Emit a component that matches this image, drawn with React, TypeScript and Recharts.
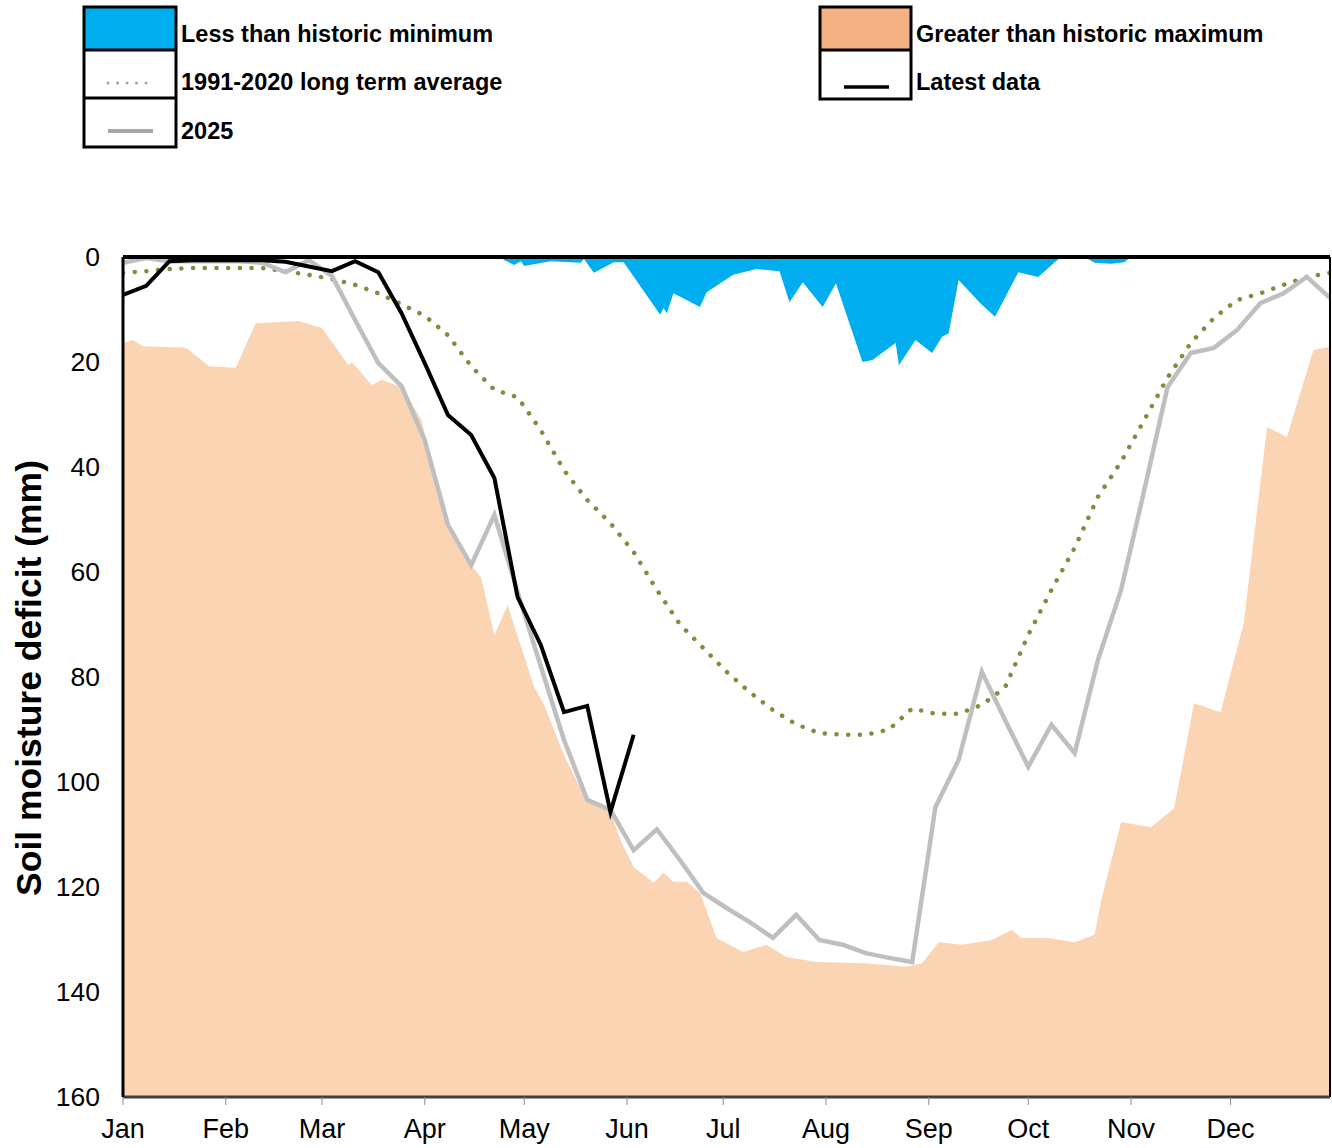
import React from 'react';
import { ComposedChart, Area, Line, XAxis, YAxis, ReferenceLine } from 'recharts';

const FONT = '"Liberation Sans", Arial, Helvetica, sans-serif';

// X axis (day of year) month ticks
const monthLabels = ['Jan', 'Feb', 'Mar', 'Apr', 'May', 'Jun', 'Jul', 'Aug', 'Sep', 'Oct', 'Nov', 'Dec'];
const monthStartDays = [0, 31, 60, 91, 121, 152, 181, 212, 243, 273, 304, 334];
const yTicks = [0, 20, 40, 60, 80, 100, 120, 140, 160];

// weekly points (day of year)
const weekDays = [0, 7, 14, 21, 28, 35, 42, 49, 56, 63, 70, 77, 84, 91, 98, 105, 112, 119, 126, 133, 140, 147, 154, 161, 168, 175, 182, 189, 196, 203, 210, 217, 224, 231, 238, 245, 252, 259, 266, 273, 280, 287, 294, 301, 308, 315, 322, 329, 336, 343, 350, 357, 364];

// 1991-2020 long term average (mm deficit)
const longTermAvg = [3.0, 2.7, 2.3, 2.1, 2.1, 2.1, 2.1, 2.7, 3.4, 4.2, 5.3, 6.9, 9.0, 11.2, 14.9, 20.8, 25.3, 26.7, 33.0, 40.6, 46.3, 50.7, 56.2, 63.4, 70.0, 74.5, 79.0, 82.9, 86.3, 89.0, 90.7, 91.0, 91.0, 90.0, 86.0, 87.0, 87.0, 85.3, 82.0, 72.0, 63.4, 55.4, 45.7, 39.0, 31.0, 23.0, 16.4, 11.6, 8.2, 6.9, 5.3, 3.8, 3.0];

// 2025 series
const year2025 = [1.1, 0.2, 0.8, 0.8, 0.8, 0.8, 1.1, 2.9, 0.6, 3.6, 12.0, 20.2, 24.6, 34.9, 51.0, 58.7, 49.1, 63.8, 78.0, 92.0, 103.4, 105.3, 113.0, 109.0, 114.9, 121.1, 124.0, 126.7, 129.7, 125.3, 130.1, 131.0, 132.6, 133.5, 134.3, 104.8, 95.8, 79.0, 88.2, 97.1, 89.1, 94.5, 76.8, 63.4, 44.4, 24.8, 18.3, 17.3, 13.9, 8.8, 6.9, 3.8, 7.8];

// Latest data (first 23 weeks)
const latestData = [7.2, 5.5, 0.8, 0.6, 0.6, 0.6, 0.6, 0.9, 1.8, 2.7, 0.8, 2.9, 10.7, 20.2, 30.1, 33.9, 42.1, 64.8, 73.9, 86.7, 85.5, 105.7, 91.0];

// Historic maximum deficit edge (orange = greater than historic maximum)
const maxDays = [0, 3, 6, 19, 26, 34, 40, 53, 60, 68, 69, 75, 78, 84, 90, 94, 98, 105, 108, 112, 116, 124, 127, 133, 139, 147, 150, 154, 160, 163, 166, 170, 174, 179, 187, 194, 200, 209, 224, 236, 241, 246, 253, 262, 268, 271, 279, 287, 293, 295, 301, 310, 317, 323, 331, 338, 345, 351, 359, 364];
const maxValues = [16.4, 15.8, 17.0, 17.3, 20.8, 21.1, 12.6, 12.2, 13.5, 20.6, 20.0, 24.4, 23.4, 24.8, 31.0, 41.5, 51.4, 58.7, 61.0, 72.0, 66.3, 81.9, 85.3, 94.9, 102.5, 105.7, 111.0, 116.2, 119.2, 117.3, 119.0, 119.0, 121.1, 129.7, 132.4, 131.0, 133.3, 134.3, 134.5, 135.2, 134.5, 130.5, 131.0, 130.1, 128.2, 129.7, 129.7, 130.5, 129.1, 122.5, 107.6, 108.6, 105.0, 85.0, 86.7, 69.7, 32.4, 34.3, 17.7, 17.1];

// Historic minimum deficit edge (blue = less than historic minimum)
const minDays = [0, 114, 115, 118, 120, 121, 129, 138, 139, 142, 148, 151, 162, 163, 164, 166, 174, 176, 184, 191, 198, 201, 205, 211, 215, 223, 226, 233, 234, 239, 244, 247, 249, 252, 259, 263, 270, 276, 281, 283, 290, 293, 298, 302, 304, 364];
const minValues = [0, 0, 0.6, 1.5, 0.8, 1.7, 0.8, 1.1, 0.4, 3.0, 1.0, 1.0, 11.0, 9.7, 10.7, 6.9, 9.5, 6.7, 3.4, 2.3, 2.7, 8.6, 4.8, 9.5, 5.0, 20.0, 19.6, 16.4, 20.6, 15.8, 18.3, 15.2, 14.5, 4.4, 9.1, 11.4, 2.9, 3.8, 1.0, 0, 0, 1.1, 1.3, 1.0, 0, 0];

const weeklyData = weekDays.map((d, i) => ({ day: d, avg: longTermAvg[i], y2025: year2025[i] }));
const latestSeries = latestData.map((v, i) => ({ day: weekDays[i], latest: v }));
const maxSeries = maxDays.map((d, i) => ({ day: d, max: maxValues[i] }));
const minSeries = minDays.map((d, i) => ({ day: d, min: minValues[i] }));

const COLORS = {
  blue: '#00AEEF',
  peach: '#FAD4B3',
  legendOrange: '#F4B183',
  green: '#76923C',
  grey: '#BFBFBF',
  black: '#000000',
};

const Legend: React.FC = () => (
  <svg width={1332} height={160} style={{ position: 'absolute', left: 0, top: 0 }}>
    {/* left box */}
    <rect x={84} y={7} width={92} height={43} fill={COLORS.blue} />
    <rect x={84} y={7} width={92} height={140} fill="none" stroke="#000" strokeWidth={3} />
    <line x1={84} y1={50} x2={176} y2={50} stroke="#000" strokeWidth={3} />
    <line x1={84} y1={98} x2={176} y2={98} stroke="#000" strokeWidth={3} />
    <line x1={108} y1={83} x2={155} y2={83} stroke="#A6A6A6" strokeWidth={3} strokeDasharray="0.1 9.4" strokeLinecap="round" />
    <line x1={108} y1={131} x2={153} y2={131} stroke="#A6A6A6" strokeWidth={4} />
    <g fontFamily={FONT} fontWeight="bold" fontSize={23.5} fill="#000">
      <text x={181} y={42}>Less than historic minimum</text>
      <text x={181} y={90}>1991-2020 long term average</text>
      <text x={181} y={139}>2025</text>
    </g>
    {/* right box */}
    <rect x={820} y={7} width={91} height={43} fill={COLORS.legendOrange} />
    <rect x={820} y={7} width={91} height={92} fill="none" stroke="#000" strokeWidth={3} />
    <line x1={820} y1={50} x2={911} y2={50} stroke="#000" strokeWidth={3} />
    <line x1={844} y1={87} x2={889} y2={87} stroke="#000" strokeWidth={3.5} />
    <g fontFamily={FONT} fontWeight="bold" fontSize={23.5} fill="#000">
      <text x={916} y={42}>Greater than historic maximum</text>
      <text x={916} y={90}>Latest data</text>
    </g>
  </svg>
);

const YTitle: React.FC = () => (
  <svg width={60} height={1148} style={{ position: 'absolute', left: 0, top: 0 }}>
    <text
      transform="translate(29,678) rotate(-90)"
      textAnchor="middle"
      dy="0.35em"
      fontFamily={FONT}
      fontWeight="bold"
      fontSize={35.5}
      fill="#000"
    >
      Soil moisture deficit (mm)
    </text>
  </svg>
);

export default function App() {
  return (
    <div style={{ position: 'absolute', left: 0, top: 0, width: 1332, height: 1148, background: '#fff' }}>
      <div style={{ position: 'absolute', left: 0, top: 0 }}>
        <ComposedChart width={1332} height={1148} margin={{ top: 257, right: 2, bottom: 11, left: 63 }}>
          <XAxis
            dataKey="day"
            type="number"
            domain={[0, 364]}
            ticks={monthStartDays}
            tickFormatter={(v: number) => monthLabels[monthStartDays.indexOf(v)] ?? ''}
            allowDataOverflow
            height={40}
            axisLine={{ stroke: '#3F3F3F', strokeWidth: 3 }}
            tickLine={{ stroke: '#8C8C8C', strokeWidth: 1 }}
            tickSize={8}
            tickMargin={14}
            tick={{ fill: '#000', fontSize: 27, fontFamily: FONT }}
            interval={0}
          />
          <YAxis
            type="number"
            reversed
            domain={[0, 160]}
            ticks={yTicks}
            allowDataOverflow
            width={60}
            axisLine={{ stroke: '#000', strokeWidth: 3 }}
            tickLine={false}
            tickSize={0}
            tickMargin={23}
            tick={{ fill: '#000', fontSize: 26.5, fontFamily: FONT }}
            interval={0}
          />
          <Area
            data={maxSeries}
            dataKey="max"
            type="linear"
            baseValue={160}
            stroke="none"
            fill={COLORS.peach}
            fillOpacity={1}
            isAnimationActive={false}
            dot={false}
            activeDot={false}
          />
          <Area
            data={minSeries}
            dataKey="min"
            type="linear"
            baseValue={0}
            stroke="none"
            fill={COLORS.blue}
            fillOpacity={1}
            isAnimationActive={false}
            dot={false}
            activeDot={false}
          />
          <Line
            data={weeklyData}
            dataKey="avg"
            type="linear"
            stroke={COLORS.green}
            strokeWidth={4.5}
            strokeDasharray="0.1 11.6"
            strokeLinecap="round"
            dot={false}
            activeDot={false}
            isAnimationActive={false}
          />
          <Line
            data={weeklyData}
            dataKey="y2025"
            type="linear"
            stroke={COLORS.grey}
            strokeWidth={4.5}
            dot={false}
            activeDot={false}
            isAnimationActive={false}
          />
          <Line
            data={latestSeries}
            dataKey="latest"
            type="linear"
            stroke={COLORS.black}
            strokeWidth={4}
            dot={false}
            activeDot={false}
            isAnimationActive={false}
          />
          <ReferenceLine y={0} stroke="#000" strokeWidth={4} ifOverflow="visible" />
          <ReferenceLine x={364} stroke="#000" strokeWidth={2} ifOverflow="visible" />
        </ComposedChart>
      </div>
      <Legend />
      <YTitle />
    </div>
  );
}
